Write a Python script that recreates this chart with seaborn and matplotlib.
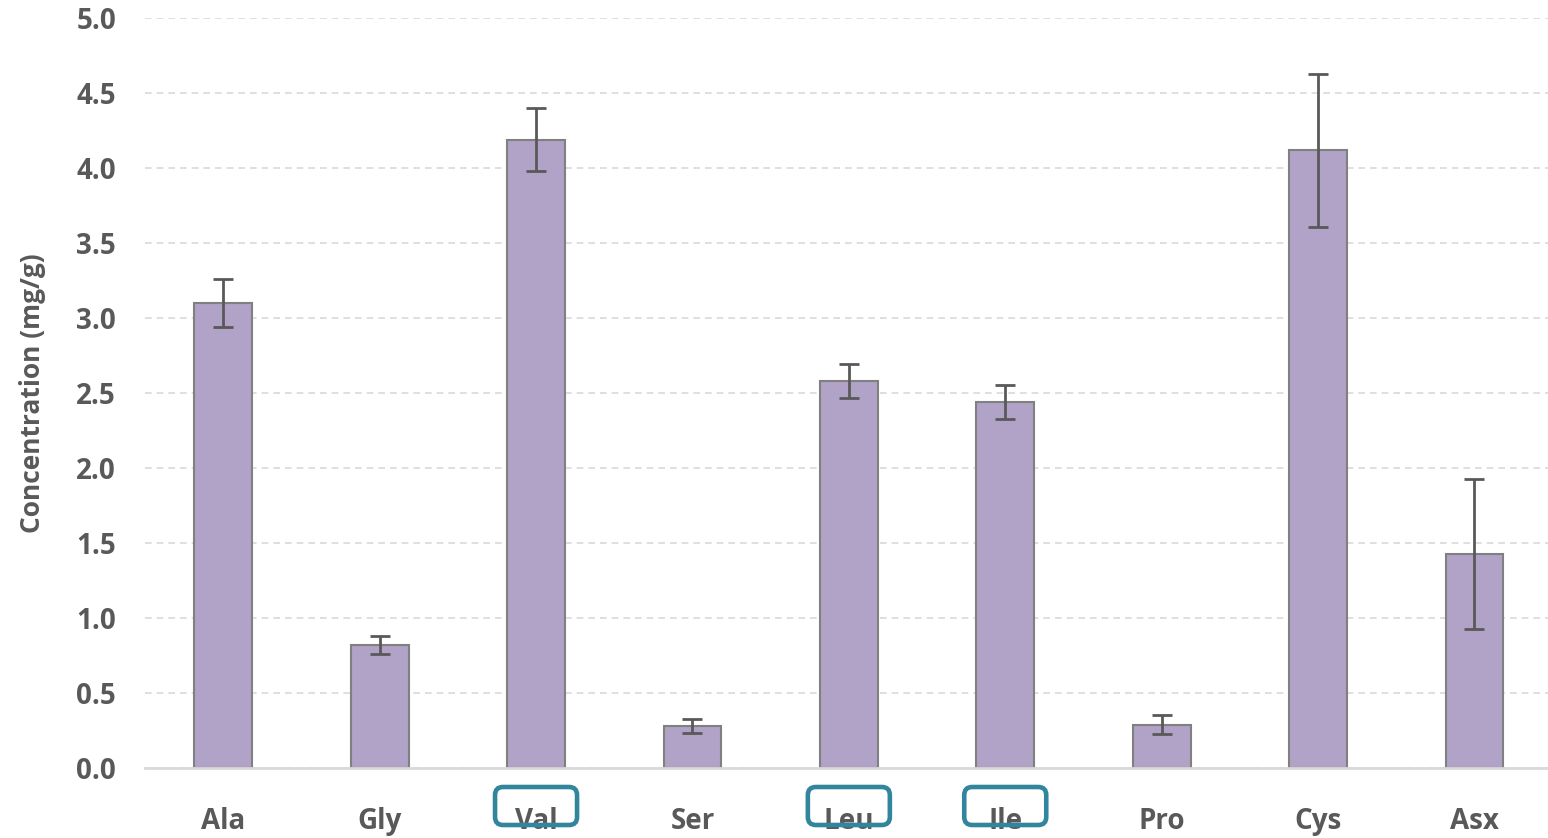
import matplotlib
matplotlib.use("Agg")
import matplotlib.pyplot as plt
from matplotlib.patches import FancyBboxPatch
from matplotlib.transforms import IdentityTransform
import numpy as np
import pandas as pd
import seaborn as sns

# Amino acid concentrations (mg/g) with their error bars
amino_acids = ["Ala", "Gly", "Val", "Ser", "Leu", "Ile", "Pro", "Cys", "Asx"]
concentration = [3.10, 0.82, 4.19, 0.28, 2.58, 2.44, 0.29, 4.12, 1.43]
error = [0.16, 0.06, 0.21, 0.045, 0.115, 0.115, 0.065, 0.51, 0.50]
highlighted = ["Val", "Leu", "Ile"]
y_ticks = [0.0, 0.5, 1.0, 1.5, 2.0, 2.5, 3.0, 3.5, 4.0, 4.5, 5.0]

df = pd.DataFrame({"amino_acid": amino_acids, "concentration": concentration})

sns.set_theme(style="white")
plt.rcParams["font.family"] = ["Open Sans", "DejaVu Sans"]

text_color = "#595959"
fig = plt.figure(figsize=(15.48, 8.38), dpi=100)
ax = fig.add_axes([0.0937, 0.0835, 0.9093, 0.895])

sns.barplot(data=df, x="amino_acid", y="concentration", ax=ax,
            color="#B1A2C7", saturation=1, width=0.37,
            edgecolor="#808080", linewidth=1.5, errorbar=None, zorder=2)

xpos = np.arange(len(amino_acids))
ax.errorbar(xpos, concentration, yerr=error, fmt="none", ecolor="#595959",
            elinewidth=2, capsize=7, capthick=2, zorder=3)

ax.set_ylim(0, 5.0)
ax.set_xlim(-0.5, len(amino_acids) - 0.5)
ax.set_yticks(y_ticks)
ax.set_yticklabels([f"{t:.1f}" for t in y_ticks])
ax.yaxis.grid(True, linestyle=(0, (4, 3)), color="#D9D9D9", linewidth=1.2, zorder=0)
ax.set_axisbelow(True)

for side in ["top", "right", "left"]:
    ax.spines[side].set_visible(False)
ax.spines["bottom"].set_color("#D9D9D9")
ax.spines["bottom"].set_linewidth(2)

ax.tick_params(axis="y", length=0, pad=21, labelsize=20, labelcolor=text_color)
ax.tick_params(axis="x", length=0, pad=28, labelsize=20, labelcolor=text_color)
for lab in ax.get_yticklabels() + ax.get_xticklabels():
    lab.set_fontweight("bold")

ax.set_xlabel("")
ax.set_ylabel("Concentration (mg/g)", fontsize=19, fontweight="bold",
              color=text_color, labelpad=22)

# Rounded frames around the highlighted category labels (pixel units)
fig.canvas.draw()
box_w, box_h, box_bottom = 82, 38, 13
for name in highlighted:
    i = amino_acids.index(name)
    x_px, _ = ax.transData.transform((i, 0))
    box = FancyBboxPatch((x_px - box_w / 2, box_bottom), box_w, box_h,
                         boxstyle="round,pad=0,rounding_size=8",
                         transform=IdentityTransform(), fill=False,
                         edgecolor="#31859C", linewidth=3.3, zorder=10)
    fig.patches.append(box)

fig.savefig("out.png", dpi=100)
